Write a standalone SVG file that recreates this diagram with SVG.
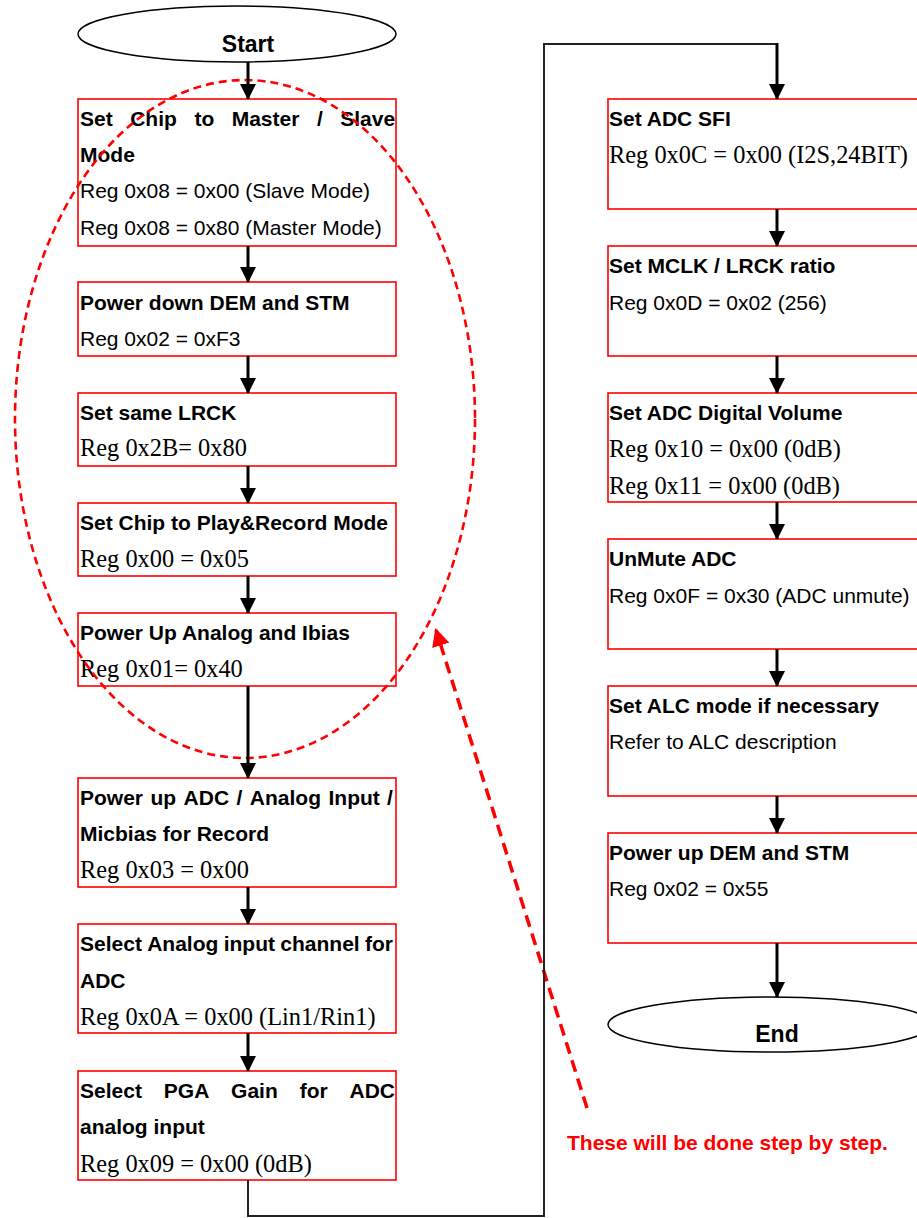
<svg xmlns="http://www.w3.org/2000/svg" width="917" height="1218" viewBox="0 0 917 1218">
<style>
.box{fill:#fff;stroke:#f00;stroke-width:1.6}
.term{fill:#fff;stroke:#000;stroke-width:1.5}
.b{font-family:"Liberation Sans",Arial,sans-serif;font-weight:bold;font-size:21px;fill:#000}
.r{font-family:"Liberation Sans",Arial,sans-serif;font-size:21px;fill:#000}
.s{font-family:"Liberation Serif","Times New Roman",serif;font-size:24.4px;fill:#000}
.t{font-family:"Liberation Sans",Arial,sans-serif;font-weight:bold;font-size:23px;fill:#000}
.arr{stroke:#000;stroke-width:3;fill:none}
.ret{stroke:#222;stroke-width:2;fill:none}
.note{font-family:"Liberation Sans",Arial,sans-serif;font-weight:bold;font-size:21px;fill:#f00}
</style>
<defs>
<marker id="ah" markerUnits="userSpaceOnUse" markerWidth="16" markerHeight="16" viewBox="0 0 16 16" refX="15" refY="8" orient="auto">
<path d="M0,0 L16,8 L0,16 z" fill="#000"/>
</marker>
<marker id="rh" markerUnits="userSpaceOnUse" markerWidth="18" markerHeight="18" viewBox="0 0 18 18" refX="16" refY="9" orient="auto">
<path d="M0,0 L18,9 L0,18 z" fill="#f00"/>
</marker>
</defs>

<g id="n-start"><ellipse class="term" cx="237" cy="34" rx="159" ry="28"/><text class="t" x="248" y="52" text-anchor="middle">Start</text></g>

<g id="n1"><rect class="box" x="78" y="99" width="318" height="147"/>
<text class="b" y="126"><tspan x="80">Set</tspan><tspan x="130.2">Chip</tspan><tspan x="194.4">to</tspan><tspan x="231.7">Master</tspan><tspan x="316.9">/</tspan><tspan x="340.2">Slave</tspan></text>
<text class="b" x="80" y="162">Mode</text>
<text class="r" x="80" y="198">Reg 0x08 = 0x00 (Slave Mode)</text>
<text class="r" x="80" y="235">Reg 0x08 = 0x80 (Master Mode)</text></g>

<g id="n2"><rect class="box" x="78" y="282" width="318" height="74"/>
<text class="b" x="80" y="310">Power down DEM and STM</text>
<text class="r" x="80" y="346">Reg 0x02 = 0xF3</text></g>

<g id="n3"><rect class="box" x="78" y="393" width="318" height="73"/>
<text class="b" x="80" y="420">Set same LRCK</text>
<text class="s" x="80" y="456">Reg 0x2B= 0x80</text></g>

<g id="n4"><rect class="box" x="78" y="503" width="318" height="73"/>
<text class="b" x="80" y="530">Set Chip to Play&amp;Record Mode</text>
<text class="s" x="80" y="567">Reg 0x00 = 0x05</text></g>

<g id="n5"><rect class="box" x="78" y="613" width="318" height="73"/>
<text class="b" x="80" y="640">Power Up Analog and Ibias</text>
<text class="s" x="80" y="677">Reg 0x01= 0x40</text></g>

<g id="n6"><rect class="box" x="78" y="778" width="318" height="109"/>
<text class="b" y="805"><tspan x="80">Power</tspan><tspan x="150.5">up</tspan><tspan x="183.6">ADC</tspan><tspan x="236.6">/</tspan><tspan x="249.8">Analog</tspan><tspan x="328.5">Input</tspan><tspan x="387">/</tspan></text>
<text class="b" x="80" y="841">Micbias for Record</text>
<text class="s" x="80" y="878">Reg 0x03 = 0x00</text></g>

<g id="n7"><rect class="box" x="78" y="924" width="318" height="109"/>
<text class="b" y="951"><tspan x="80">Select</tspan><tspan x="147.2">Analog</tspan><tspan x="223.7">input</tspan><tspan x="280.3">channel</tspan><tspan x="365">for</tspan></text>
<text class="b" x="80" y="988">ADC</text>
<text class="s" x="80" y="1025">Reg 0x0A = 0x00 (Lin1/Rin1)</text></g>

<g id="n8"><rect class="box" x="78" y="1071" width="318" height="109"/>
<text class="b" y="1098"><tspan x="80">Select</tspan><tspan x="163.8">PGA</tspan><tspan x="231.1">Gain</tspan><tspan x="299.7">for</tspan><tspan x="349.5">ADC</tspan></text>
<text class="b" x="80" y="1134">analog input</text>
<text class="s" x="80" y="1172">Reg 0x09 = 0x00 (0dB)</text></g>

<g id="r1"><rect class="box" x="608" y="99" width="320" height="110"/>
<text class="b" x="609" y="126">Set ADC SFI</text>
<text class="s" x="609" y="163">Reg 0x0C = 0x00 (I2S,24BIT)</text></g>

<g id="r2"><rect class="box" x="608" y="246" width="320" height="110"/>
<text class="b" x="609" y="273">Set MCLK / LRCK ratio</text>
<text class="r" x="609" y="310">Reg 0x0D = 0x02 (256)</text></g>

<g id="r3"><rect class="box" x="608" y="393" width="320" height="109"/>
<text class="b" x="609" y="420">Set ADC Digital Volume</text>
<text class="s" x="609" y="457">Reg 0x10 = 0x00 (0dB)</text>
<text class="s" x="609" y="494">Reg 0x11 = 0x00 (0dB)</text></g>

<g id="r4"><rect class="box" x="608" y="539" width="320" height="110"/>
<text class="b" x="609" y="566">UnMute ADC</text>
<text class="r" x="609" y="603">Reg 0x0F = 0x30 (ADC unmute)</text></g>

<g id="r5"><rect class="box" x="608" y="686" width="320" height="110"/>
<text class="b" x="609" y="713">Set ALC mode if necessary</text>
<text class="r" x="609" y="749">Refer to ALC description</text></g>

<g id="r6"><rect class="box" x="608" y="833" width="320" height="110"/>
<text class="b" x="609" y="860">Power up DEM and STM</text>
<text class="r" x="609" y="896">Reg 0x02 = 0x55</text></g>

<g id="n-end"><ellipse class="term" cx="770" cy="1024.5" rx="162" ry="27.5"/><text class="t" x="777" y="1042" text-anchor="middle">End</text></g>

<g id="annotation">
<ellipse cx="245" cy="419" rx="230" ry="339" fill="none" stroke="#f00" stroke-width="2.6" stroke-dasharray="8,5"/>
<line x1="587" y1="1108" x2="436" y2="630" stroke="#f00" stroke-width="3.5" stroke-dasharray="12,7" marker-end="url(#rh)"/>
<text class="note" x="567" y="1150">These will be done step by step.</text>
</g>

<g id="connectors">
<line class="arr" x1="248" y1="62" x2="248" y2="99" marker-end="url(#ah)"/>
<line class="arr" x1="248" y1="246" x2="248" y2="282" marker-end="url(#ah)"/>
<line class="arr" x1="248" y1="356" x2="248" y2="393" marker-end="url(#ah)"/>
<line class="arr" x1="248" y1="466" x2="248" y2="503" marker-end="url(#ah)"/>
<line class="arr" x1="248" y1="576" x2="248" y2="613" marker-end="url(#ah)"/>
<line class="arr" x1="248" y1="686" x2="248" y2="778" marker-end="url(#ah)"/>
<line class="arr" x1="248" y1="887" x2="248" y2="924" marker-end="url(#ah)"/>
<line class="arr" x1="248" y1="1033" x2="248" y2="1071" marker-end="url(#ah)"/>
<path class="ret" d="M248,1180 V1216 H544 V44 H777"/>
<line class="arr" x1="777" y1="43" x2="777" y2="99" marker-end="url(#ah)"/>
<line class="arr" x1="777" y1="209" x2="777" y2="246" marker-end="url(#ah)"/>
<line class="arr" x1="777" y1="356" x2="777" y2="393" marker-end="url(#ah)"/>
<line class="arr" x1="777" y1="502" x2="777" y2="539" marker-end="url(#ah)"/>
<line class="arr" x1="777" y1="649" x2="777" y2="686" marker-end="url(#ah)"/>
<line class="arr" x1="777" y1="796" x2="777" y2="833" marker-end="url(#ah)"/>
<line class="arr" x1="777" y1="943" x2="777" y2="997" marker-end="url(#ah)"/>
</g>
</svg>
